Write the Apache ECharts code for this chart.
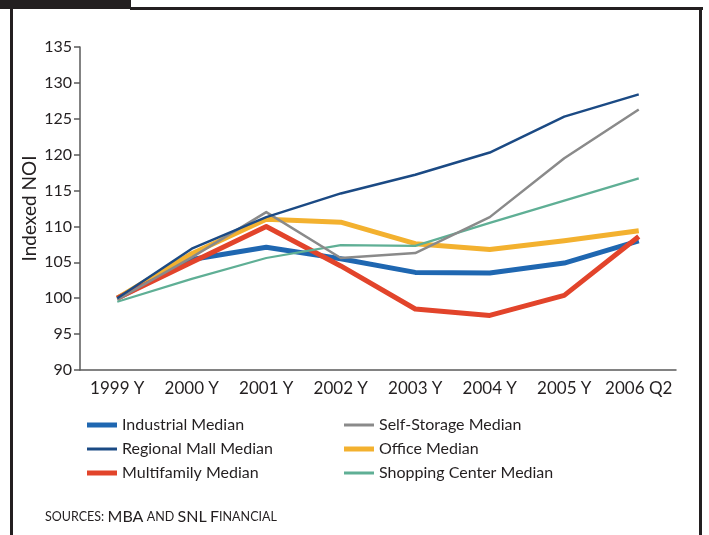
<!DOCTYPE html>
<html>
<head>
<meta charset="utf-8">
<script src="https://cdn.jsdelivr.net/npm/echarts@6/dist/echarts.min.js"></script>
<style>
  html, body { margin: 0; padding: 0; background: #fff; }
  #chart { width: 709px; height: 535px; }
</style>
</head>
<body>
<div id="chart"></div>
<script>
// categories along the x axis
const periods = ['1999 Y', '2000 Y', '2001 Y', '2002 Y', '2003 Y', '2004 Y', '2005 Y', '2006 Q2'];

// indexed NOI
const industrial   = [100, 105.4, 107.1, 105.5, 103.6, 103.5, 104.9, 108.0];
const regionalMall = [100, 106.9, 111.3, 114.6, 117.2, 120.3, 125.3, 128.4];
const multifamily  = [100, 105.0, 110.0, 104.5, 98.5, 97.6, 100.4, 108.6];
const selfStorage  = [99.8, 105.7, 112.0, 105.6, 106.3, 111.3, 119.5, 126.3];
const office       = [100, 106.2, 111.0, 110.6, 107.6, 106.8, 108.0, 109.4];
const shopping     = [99.5, 102.7, 105.6, 107.4, 107.3, 110.5, 113.6, 116.7];

const FONT = 'Lato, "Noto Sans", sans-serif';
const TEXT = '#231f20';
const AXIS = '#5a5a5a';

const THICK_ICON = 'path://M0,0H30V5H0Z';
const THIN_ICON = 'path://M0,0H30V3H0Z';

const chart = echarts.init(document.getElementById('chart'), null, { renderer: 'canvas' });

function line(name, data, color, width, z) {
  return {
    name, type: 'line', data, symbol: 'none', z,
    lineStyle: { color, width, join: 'round' },
    itemStyle: { color },
    emphasis: { disabled: true },
  };
}

const legendBase = {
  top: 412, orient: 'vertical', itemGap: 8,
  itemWidth: 30, itemHeight: 16,
  textStyle: { fontSize: 16, color: TEXT, fontFamily: FONT, padding: [0, 0, 0, 0] },
  selectedMode: false,
};

chart.setOption({
  backgroundColor: '#fff',
  animation: false,
  textStyle: { fontFamily: FONT, color: TEXT },
  grid: { left: 80, right: 33, top: 47, bottom: 165 },
  xAxis: {
    type: 'category',
    data: periods,
    boundaryGap: true,
    axisLine: { lineStyle: { color: AXIS, width: 1.5 } },
    axisTick: { alignWithLabel: true, length: 7, lineStyle: { color: AXIS, width: 1.5 } },
    axisLabel: { color: TEXT, fontSize: 17, margin: 10, interval: 0, fontFamily: FONT },
  },
  yAxis: {
    type: 'value',
    min: 90, max: 135, interval: 5,
    name: 'Indexed NOI',
    nameLocation: 'middle',
    nameGap: 41,
    nameMoveOverlap: false,
    nameTextStyle: { fontSize: 19, color: TEXT, fontFamily: FONT },
    axisLine: { show: true, lineStyle: { color: AXIS, width: 1.5 } },
    axisTick: { show: true, length: 6, lineStyle: { color: AXIS, width: 1.5 } },
    axisLabel: { color: TEXT, fontSize: 16, margin: 8, fontFamily: FONT },
    splitLine: { show: false },
  },
  legend: [
    Object.assign({}, legendBase, {
      left: 82,
      data: [
        { name: 'Industrial Median', icon: THICK_ICON },
        { name: 'Regional Mall Median', icon: THIN_ICON },
        { name: 'Multifamily Median', icon: THICK_ICON },
      ],
    }),
    Object.assign({}, legendBase, {
      left: 339,
      data: [
        { name: 'Self-Storage Median', icon: THIN_ICON },
        { name: 'Office Median', icon: THICK_ICON },
        { name: 'Shopping Center Median', icon: THIN_ICON },
      ],
    }),
  ],
  series: [
    line('Industrial Median', industrial, '#1f67b1', 5, 2),
    line('Office Median', office, '#f3b12f', 5, 3),
    line('Multifamily Median', multifamily, '#e2442b', 5, 4),
    line('Shopping Center Median', shopping, '#5faf95', 2.2, 5),
    line('Self-Storage Median', selfStorage, '#8a8a8a', 2.5, 6),
    line('Regional Mall Median', regionalMall, '#1b4a84', 2.5, 7),
  ],
  graphic: [
    // frame pieces around the figure
    { type: 'rect', shape: { x: 0, y: 0, width: 131, height: 9 }, style: { fill: '#231f20' }, silent: true },
    { type: 'rect', shape: { x: 130, y: 7, width: 573, height: 3 }, style: { fill: '#231f20' }, silent: true },
    { type: 'rect', shape: { x: 10, y: 7, width: 3, height: 528 }, style: { fill: '#231f20' }, silent: true },
    { type: 'rect', shape: { x: 699, y: 7, width: 3, height: 528 }, style: { fill: '#231f20' }, silent: true },
    {
      type: 'text', left: 45, top: 509, silent: true,
      style: {
        text: '{s|SOURCES:} {b|MBA} {s|AND} {b|SNL} {b|F}{s|INANCIAL}',
        rich: {
          s: { fontSize: 12.5, fontFamily: FONT, fill: TEXT },
          b: { fontSize: 16, fontFamily: FONT, fill: TEXT },
        },
      },
    },
  ],
});
</script>
</body>
</html>
